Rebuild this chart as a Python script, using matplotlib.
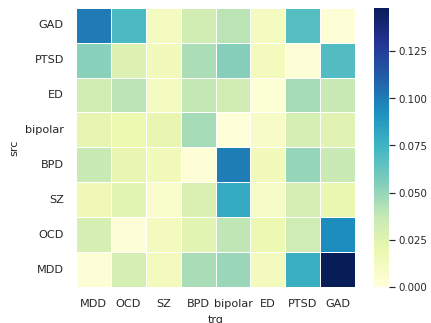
import matplotlib
matplotlib.use("Agg")
import matplotlib.pyplot as plt
import numpy as np
import pandas as pd
import seaborn as sns

src = ["GAD", "PTSD", "ED", "bipolar", "BPD", "SZ", "OCD", "MDD"]
trg = ["MDD", "OCD", "SZ", "BPD", "bipolar", "ED", "PTSD", "GAD"]

# one list per source row, values in trg order
gad     = [0.101, 0.071, 0.012, 0.032, 0.040, 0.012, 0.068, 0.002]
ptsd    = [0.053, 0.027, 0.015, 0.044, 0.054, 0.013, 0.002, 0.069]
ed      = [0.032, 0.040, 0.011, 0.038, 0.032, 0.003, 0.046, 0.036]
bipolar = [0.022, 0.019, 0.021, 0.046, 0.001, 0.009, 0.031, 0.025]
bpd     = [0.036, 0.021, 0.015, 0.002, 0.0995, 0.014, 0.050, 0.036]
sz      = [0.017, 0.024, 0.006, 0.028, 0.080, 0.010, 0.031, 0.020]
ocd     = [0.030, 0.002, 0.013, 0.024, 0.039, 0.018, 0.034, 0.094]
mdd     = [0.002, 0.031, 0.013, 0.045, 0.049, 0.013, 0.078, 0.148]
cbar_ticks = [0.0, 0.025, 0.05, 0.075, 0.1, 0.125]

df = pd.DataFrame([gad, ptsd, ed, bipolar, bpd, sz, ocd, mdd], index=src, columns=trg)
df.index.name = "src"
df.columns.name = "trg"

sns.set_theme(style="white", rc={"xtick.labelsize": 12, "ytick.labelsize": 12,
                                 "axes.labelsize": 12})

W, H = 431, 323
fig = plt.figure(figsize=(6.4, 4.8), dpi=67.35)
ax = fig.add_axes([76 / W, 36 / H, 279 / W, 279 / H])
cax = fig.add_axes([374 / W, 36 / H, 15 / W, 279 / H])
sns.heatmap(df, cmap="YlGnBu", linewidths=1, vmin=0, ax=ax, cbar_ax=cax,
            cbar_kws={"ticks": cbar_ticks, "format": "%.3f"})
ax.tick_params(axis="y", rotation=0)
ax.tick_params(axis="both", pad=7)
ax.set_xlabel("trg", labelpad=5.5)
ax.set_ylabel("src", labelpad=6)
cax.tick_params(labelsize=11)
fig.savefig("out.png")
